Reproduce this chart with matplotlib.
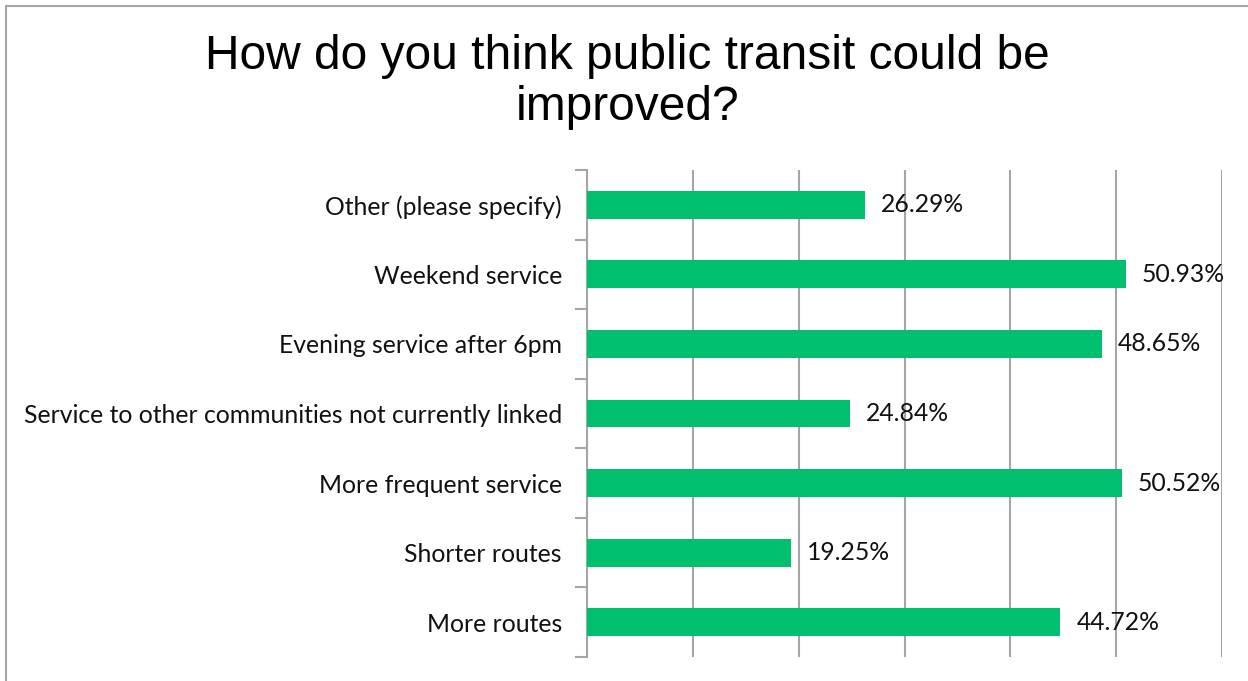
import matplotlib.pyplot as plt
from matplotlib.patches import Rectangle

categories = ['More routes', 'Shorter routes', 'More frequent service',
              'Service to other communities not currently linked',
              'Evening service after 6pm', 'Weekend service', 'Other (please specify)']
values = [44.72, 19.25, 50.52, 24.84, 48.65, 50.93, 26.29]

plt.rcParams['font.family'] = ['Lato', 'DejaVu Sans']

fig = plt.figure(figsize=(12.48, 6.81), dpi=100)
ax = fig.add_axes([587 / 1248, 1 - 657 / 681, (1222 - 587) / 1248, (657 - 170) / 681])

# outer chart border (right and bottom edges fall outside the picture)
fig.patches.append(Rectangle((6 / 1248, -0.1), 1.2, 1 - 6 / 681 + 0.1,
                             transform=fig.transFigure, fill=False,
                             edgecolor='#A6A6A6', linewidth=1.5))

y = range(len(categories))
ax.barh(y, values, height=0.4, color='#00BF6F', zorder=3)
for i, v in enumerate(values):
    ax.annotate(f'{v:.2f}%', (v, i), xytext=(16, 0), textcoords='offset pixels',
                va='center', ha='left', fontsize=17.8, color='#111111', zorder=4)

ax.set_xlim(0, 60)
ax.set_ylim(-0.5, len(categories) - 0.5)
ax.set_xticks(range(0, 61, 10))
ax.tick_params(axis='x', length=0, labelbottom=False)
ax.grid(axis='x', color='#A6A6A6', linewidth=1.5, zorder=0)

ax.set_yticks(list(y))
ax.set_yticklabels(categories, fontsize=17.8, color='#111111')
ax.set_yticks([i - 0.5 for i in range(len(categories) + 1)], minor=True)
ax.tick_params(axis='y', which='major', length=0, pad=18)
ax.tick_params(axis='y', which='minor', length=9, width=1.5, color='#A6A6A6')

for s in ['top', 'right', 'bottom']:
    ax.spines[s].set_visible(False)
ax.spines['left'].set_color('#A6A6A6')
ax.spines['left'].set_linewidth(1.5)

fig.text(0.503, 1 - 82 / 681, 'How do you think public transit could be\nimproved?',
         ha='center', va='center', fontsize=34.5, family='Liberation Sans',
         linespacing=1.16, color='#000000')

fig.savefig('out.png', dpi=100)
